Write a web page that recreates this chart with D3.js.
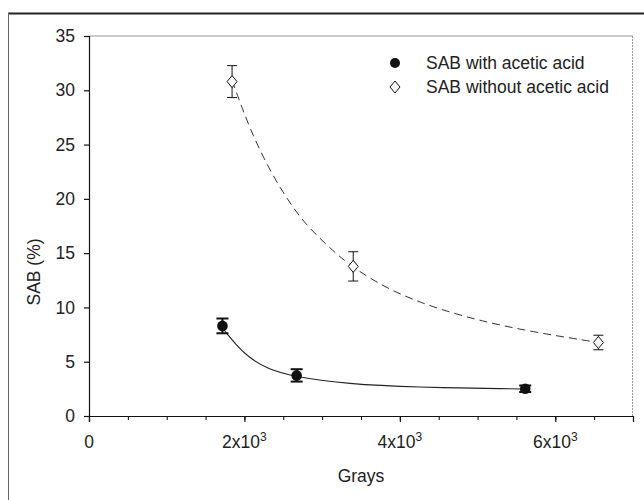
<!DOCTYPE html>
<html>
<head>
<meta charset="utf-8">
<script src="https://cdn.jsdelivr.net/npm/d3@7"></script>
<style>
  body { margin: 0; background: #fff; }
  svg text { font-family: "Liberation Sans", Arial, sans-serif; fill: #222; }
</style>
</head>
<body>
<div id="graph"></div>
<script>
// measured points (Grays, SAB %)
var withX = [1717, 2672, 5613],
    withY = [8.3, 3.74, 2.51],
    withErr = [0.68, 0.57, 0.3];

var withoutX = [1841, 3400, 6555],
    withoutY = [30.8, 13.78, 6.77],
    withoutErr = [1.47, 1.35, 0.67];

// fitted curves
var fitWithX = [1740, 1900, 2046, 2303, 2646, 3331, 4188, 5472, 5613],
    fitWithY = [7.9, 6.5, 5.45, 4.29, 3.61, 2.94, 2.64, 2.5, 2.49];

var fitWithoutX = [1841, 1918, 2068, 2283, 2518, 2775, 3096, 3288, 3481, 3866, 4423, 5065, 5707, 6435, 6555],
    fitWithoutY = [30.9, 29.4, 26.5, 23.2, 20.3, 17.7, 15.5, 14.3, 13.3, 11.6, 10.0, 8.7, 7.75, 6.9, 6.77];

var yTicks = [0, 5, 10, 15, 20, 25, 30, 35],
    xTicks = [0, 2000, 4000, 6000],
    xMinor = d3.range(0, 7001, 500);

var legendLabels = ['SAB with acetic acid', 'SAB without acetic acid'];

var width = 644,
    height = 500,
    svg = d3.select('#graph')
        .append('svg')
        .attr('width', width)
        .attr('height', height);

// outer frame
svg.append('line').attr('x1', 8).attr('x2', 644).attr('y1', 13.5).attr('y2', 13.5)
    .attr('stroke', '#222').attr('stroke-width', 2);
svg.append('line').attr('x1', 8.5).attr('x2', 8.5).attr('y1', 13).attr('y2', 500)
    .attr('stroke', '#666').attr('stroke-width', 1);

var x = d3.scaleLinear().domain([0, 7000]).range([89, 633]),
    y = d3.scaleLinear().domain([0, 35]).range([416, 36]);

// plot box top/right
svg.append('line').attr('x1', 89).attr('x2', 633).attr('y1', 36).attr('y2', 36)
    .attr('stroke', '#999').attr('stroke-width', 1);
svg.append('line').attr('x1', 632.5).attr('x2', 632.5).attr('y1', 36).attr('y2', 416)
    .attr('stroke', '#999').attr('stroke-width', 1).attr('stroke-dasharray', '2,1');

// y axis
var yAxis = svg.append('g')
    .attr('transform', 'translate(89,0)')
    .call(d3.axisLeft(y).tickValues(yTicks).tickSize(5).tickPadding(9));
yAxis.selectAll('text').style('font-size', '17.5px').attr('fill', '#222');

// x axis (minor ticks)
svg.append('g')
    .attr('transform', 'translate(0,416)')
    .call(d3.axisBottom(x).tickValues(xMinor).tickSize(4).tickFormat(''))
    .select('.domain').remove();

var xAxis = svg.append('g')
    .attr('transform', 'translate(0,416)')
    .call(d3.axisBottom(x).tickValues(xTicks).tickSize(6).tickPadding(10).tickFormat(''));

[yAxis, xAxis].forEach(function (g) {
    g.selectAll('line, path').attr('stroke', '#111').attr('stroke-width', 1.2);
});

// x tick labels with superscript
xTicks.forEach(function (t) {
    var txt = svg.append('text')
        .attr('x', x(t))
        .attr('y', 448)
        .attr('text-anchor', 'middle')
        .style('font-size', '17.5px');
    if (t === 0) {
        txt.text('0');
    } else {
        txt.append('tspan').text((t / 1000) + 'x10');
        txt.append('tspan').attr('dy', -7).style('font-size', '12px').text('3');
    }
});

// axis titles
svg.append('text')
    .attr('x', 361).attr('y', 482)
    .attr('text-anchor', 'middle')
    .style('font-size', '17.5px')
    .text('Grays');

svg.append('text')
    .attr('transform', 'translate(40,272) rotate(-90)')
    .attr('text-anchor', 'middle')
    .style('font-size', '17.5px')
    .text('SAB (%)');

// fit curves
var line = d3.line()
    .x(function (d) { return x(d[0]); })
    .y(function (d) { return y(d[1]); })
    .curve(d3.curveBasis);

svg.append('path')
    .datum(d3.zip(fitWithoutX, fitWithoutY))
    .attr('d', line)
    .attr('fill', 'none')
    .attr('stroke', '#333')
    .attr('stroke-width', 1)
    .attr('stroke-dasharray', '8,5');

svg.append('path')
    .datum(d3.zip(fitWithX, fitWithY))
    .attr('d', line)
    .attr('fill', 'none')
    .attr('stroke', '#222')
    .attr('stroke-width', 1.1);

// error bars
function errorBars(xs, ys, errs, capW, sw) {
    var g = svg.append('g').attr('stroke', '#111').attr('stroke-width', sw);
    xs.forEach(function (xv, i) {
        var cx = x(xv), lo = y(ys[i] - errs[i]), hi = y(ys[i] + errs[i]);
        g.append('line').attr('x1', cx).attr('x2', cx).attr('y1', lo).attr('y2', hi);
        g.append('line').attr('x1', cx - capW / 2).attr('x2', cx + capW / 2).attr('y1', lo).attr('y2', lo);
        g.append('line').attr('x1', cx - capW / 2).attr('x2', cx + capW / 2).attr('y1', hi).attr('y2', hi);
    });
}
errorBars(withoutX, withoutY, withoutErr, 10, 1);
errorBars(withX, withY, withErr, 12, 2);

function diamond(cx, cy) {
    return 'M' + cx + ',' + (cy - 6) + 'L' + (cx + 5) + ',' + cy +
        'L' + cx + ',' + (cy + 6) + 'L' + (cx - 5) + ',' + cy + 'Z';
}

svg.selectAll('path.open')
    .data(d3.zip(withoutX, withoutY))
    .enter()
    .append('path')
    .classed('open', true)
    .attr('d', function (d) { return diamond(x(d[0]), y(d[1])); })
    .attr('fill', '#fff')
    .attr('stroke', '#111')
    .attr('stroke-width', 1);

svg.selectAll('circle.filled')
    .data(d3.zip(withX, withY))
    .enter()
    .append('circle')
    .classed('filled', true)
    .attr('cx', function (d) { return x(d[0]); })
    .attr('cy', function (d) { return y(d[1]); })
    .attr('r', 5.3)
    .attr('fill', '#111');

// legend
var legend = svg.append('g');
legend.append('circle').attr('cx', 395).attr('cy', 63).attr('r', 5).attr('fill', '#111');
legend.append('path').attr('d', diamond(395, 87)).attr('fill', '#fff').attr('stroke', '#111');
legendLabels.forEach(function (l, i) {
    legend.append('text')
        .attr('x', 426).attr('y', 68.5 + i * 24)
        .style('font-size', '17.5px')
        .text(l);
});
</script>
</body>
</html>
